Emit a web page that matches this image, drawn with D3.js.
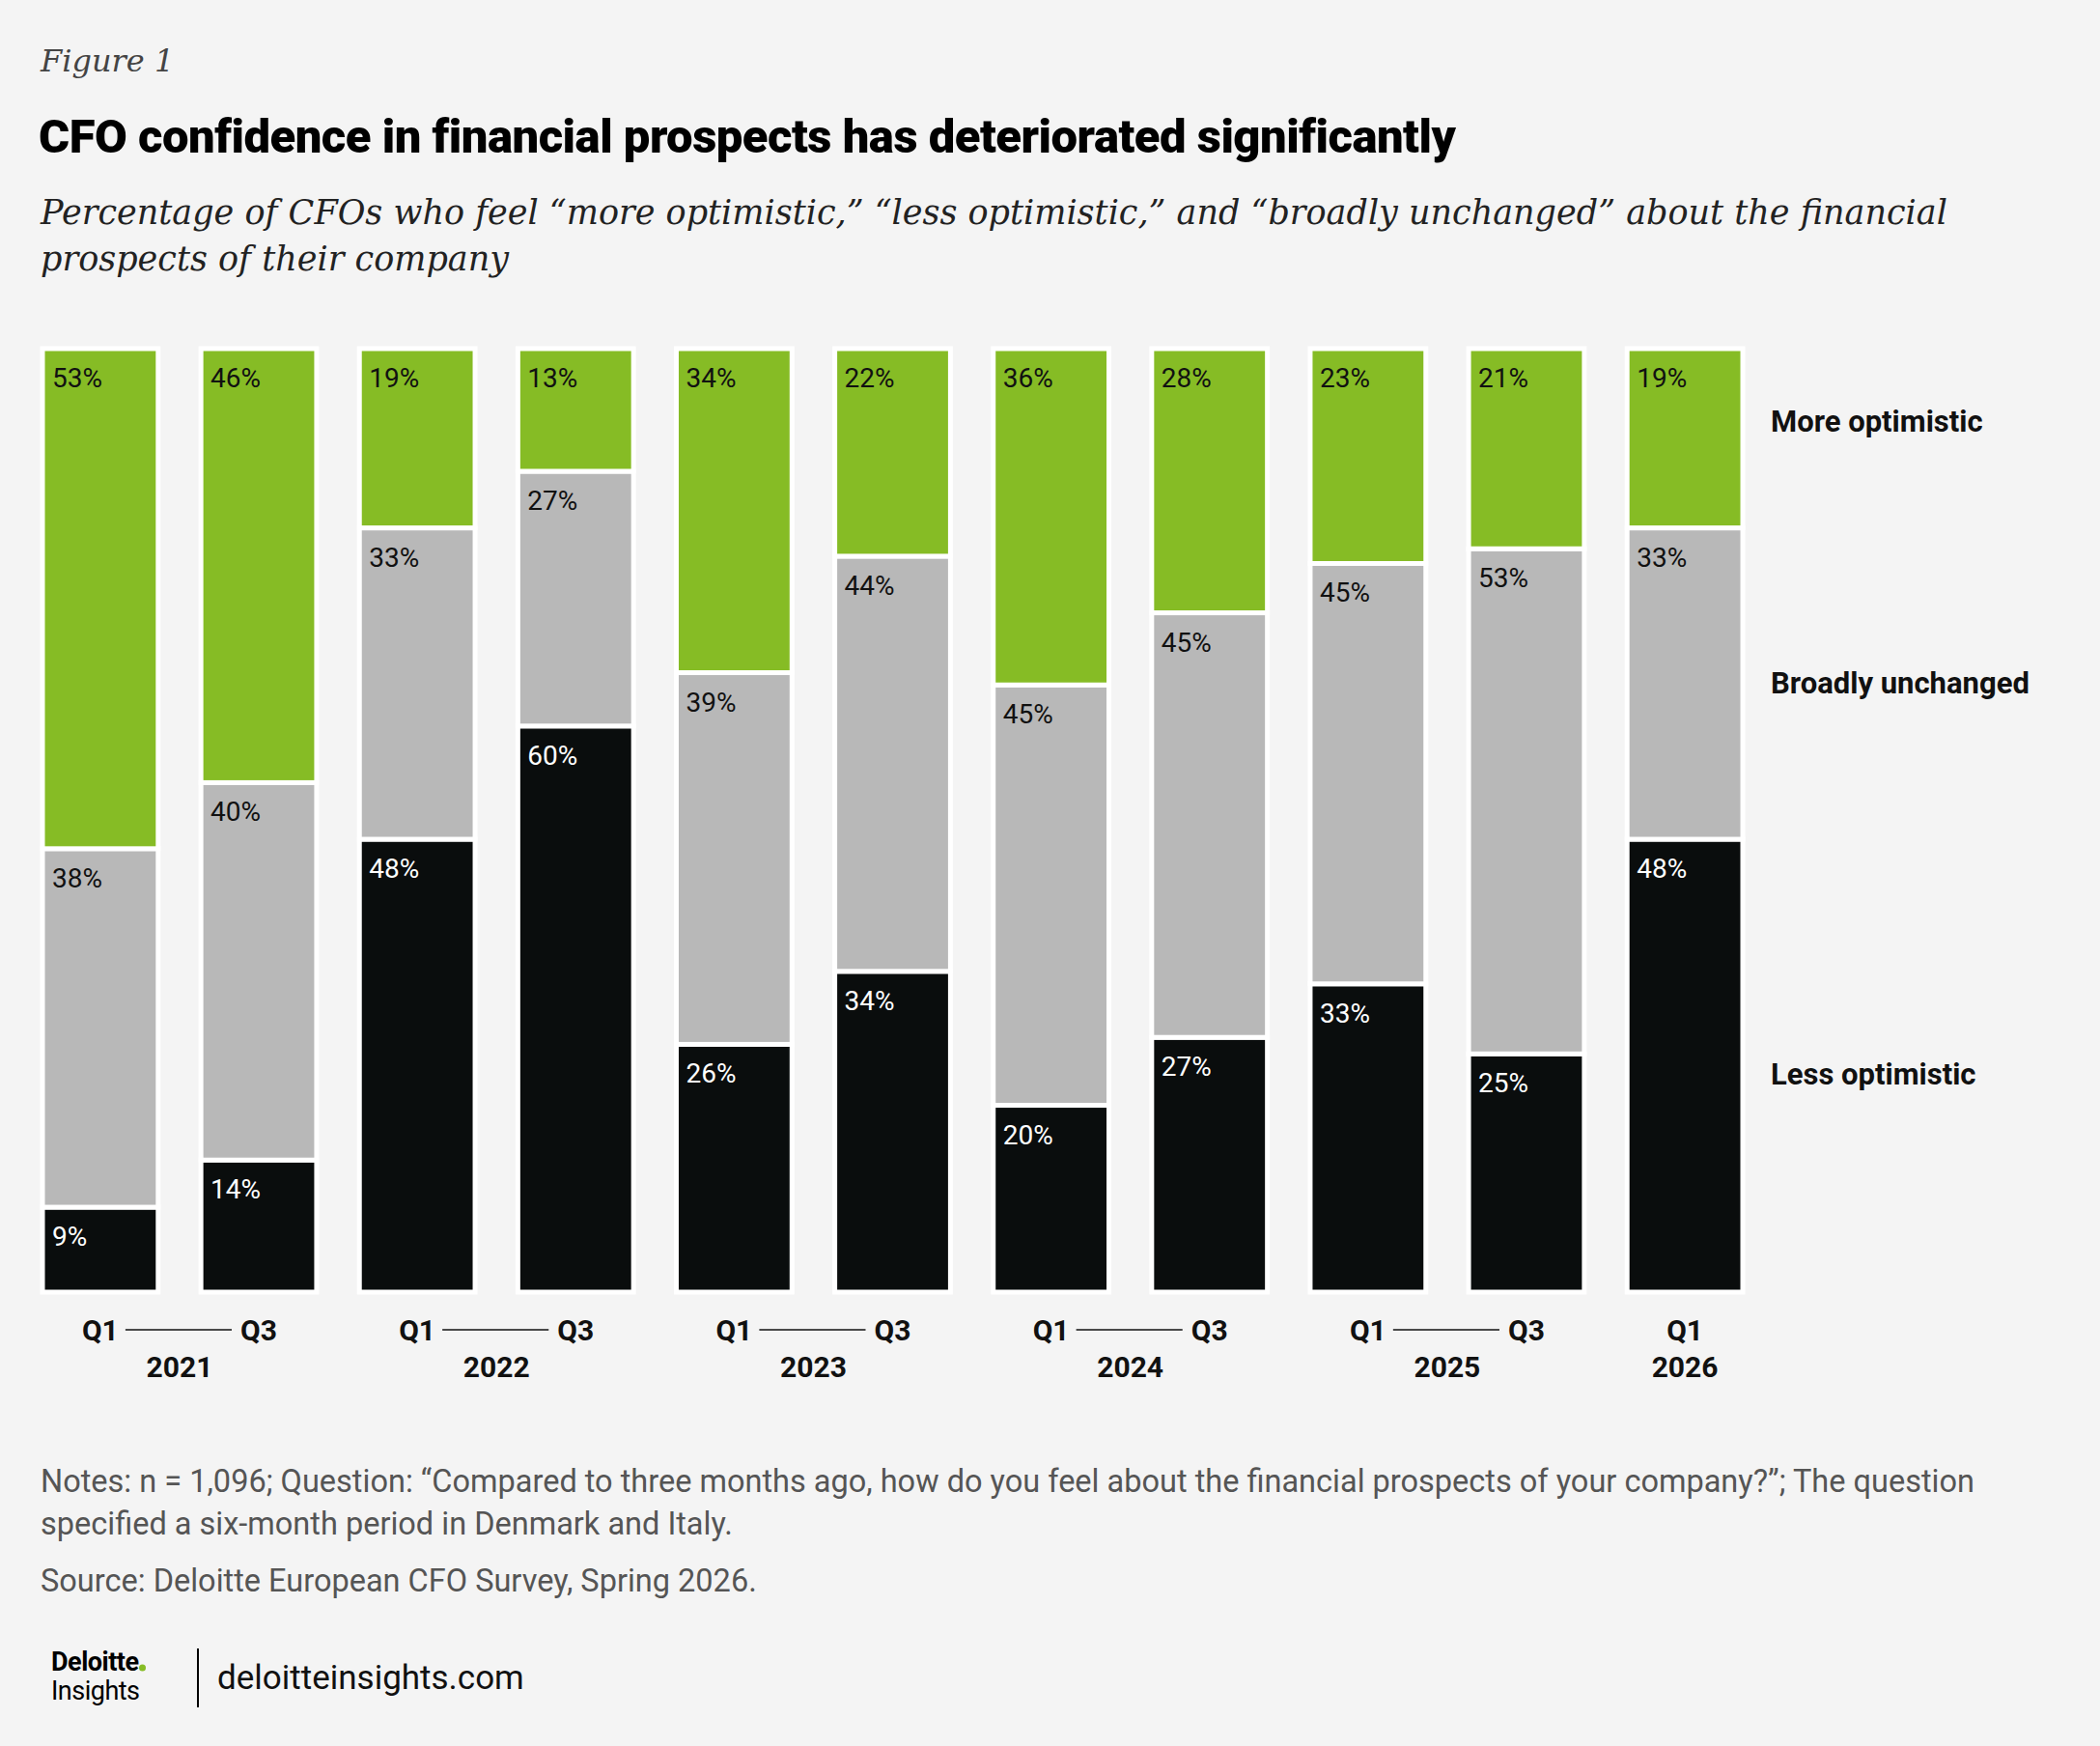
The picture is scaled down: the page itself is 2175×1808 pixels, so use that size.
<!DOCTYPE html>
<html><head><meta charset="utf-8">
<script src="https://cdn.jsdelivr.net/npm/d3@7"></script>
<style>body{margin:0;background:#f4f4f4}</style>
</head><body>
<script>
const periods = ["Q1 2021","Q3 2021","Q1 2022","Q3 2022","Q1 2023","Q3 2023","Q1 2024","Q3 2024","Q1 2025","Q3 2025","Q1 2026"];
const lessOpt = [9,14,48,60,26,34,20,27,33,25,48];
const unchanged = [38,40,33,27,39,44,45,45,45,53,33];
const moreOpt = [53,46,19,13,34,22,36,28,23,21,19];
const seriesNames = ["Less optimistic","Broadly unchanged","More optimistic"];
const colors = ["#0a0d0d","#b8b8b8","#86bc25"];
const years = ["2021","2022","2023","2024","2025","2026"];

const W = 2175, H = 1808;
const svg = d3.select("body").append("svg").attr("width", W).attr("height", H);
svg.append("rect").attr("width", W).attr("height", H).attr("fill", "#f4f4f4");

const serif = "'DejaVu Serif', 'Liberation Serif', serif";
const sans = "Roboto, 'Noto Sans', sans-serif";

svg.append("text").attr("x", 42).attr("y", 74).attr("font-family", serif).attr("font-style", "italic")
  .attr("font-size", 32).attr("fill", "#444").text("Figure 1");
svg.append("text").attr("x", 40).attr("y", 158).attr("font-family", sans).attr("font-weight", 900)
  .attr("font-size", 49).attr("letter-spacing", -0.5).attr("fill", "#000").text("CFO confidence in financial prospects has deteriorated significantly");
[["Percentage of CFOs who feel “more optimistic,” “less optimistic,” and “broadly unchanged” about the financial", 232],
 ["prospects of their company", 280]].forEach(([t, y]) =>
  svg.append("text").attr("x", 42).attr("y", y).attr("font-family", serif).attr("font-style", "italic")
    .attr("font-size", 35).attr("fill", "#222").text(t));

const rows = periods.map((p, i) => {
  const tot = lessOpt[i] + unchanged[i] + moreOpt[i];
  return { p, vals: [lessOpt[i], unchanged[i], moreOpt[i]], tot };
});

const x = d3.scaleBand().domain(periods).range([44, 1805]).paddingInner(0.27).paddingOuter(0);
const y = d3.scaleLinear().domain([0, 1]).range([1338, 361]);

const g = svg.append("g");
rows.forEach(r => {
  let acc = 0;
  r.vals.forEach((v, k) => {
    const y0 = acc / r.tot, y1 = (acc + v) / r.tot;
    acc += v;
    const top = y(y1), bot = y(y0);
    g.append("rect").attr("x", x(r.p)).attr("width", x.bandwidth())
      .attr("y", top).attr("height", bot - top).attr("fill", colors[k])
      .attr("stroke", "#fff").attr("stroke-width", 5);
    g.append("text").attr("x", x(r.p) + 10).attr("y", top + 40)
      .attr("font-family", sans).attr("font-size", 28)
      .attr("fill", k === 0 ? "#fff" : "#111").text(v + "%");
  });
});

const legendY = [1123, 718, 447];
seriesNames.forEach((s, k) => {
  svg.append("text").attr("x", 1834).attr("y", legendY[k]).attr("font-family", sans)
    .attr("font-weight", 700).attr("font-size", 31).attr("fill", "#111").text(s);
});

const ax = svg.append("g").attr("font-family", sans).attr("font-weight", 700).attr("font-size", 30).attr("fill", "#111");
periods.forEach(p => {
  ax.append("text").attr("x", x(p) + x.bandwidth() / 2).attr("y", 1388).attr("text-anchor", "middle").text(p.split(" ")[0]);
});
years.forEach((yr, i) => {
  const a1 = periods[i * 2], a2 = periods[i * 2 + 1];
  if (a2) {
    const c1 = x(a1) + x.bandwidth() / 2, c2 = x(a2) + x.bandwidth() / 2;
    ax.append("line").attr("x1", c1 + 26).attr("x2", c2 - 28).attr("y1", 1377).attr("y2", 1377)
      .attr("stroke", "#111").attr("stroke-width", 1.5);
    ax.append("text").attr("x", (c1 + c2) / 2).attr("y", 1426).attr("text-anchor", "middle").text(yr);
  } else {
    ax.append("text").attr("x", x(a1) + x.bandwidth() / 2).attr("y", 1426).attr("text-anchor", "middle").text(yr);
  }
});

[["Notes: n = 1,096; Question: “Compared to three months ago, how do you feel about the financial prospects of your company?”; The question", 1545],
 ["specified a six-month period in Denmark and Italy.", 1589],
 ["Source: Deloitte European CFO Survey, Spring 2026.", 1648]].forEach(([t, yy]) =>
  svg.append("text").attr("x", 42).attr("y", yy).attr("font-family", sans).attr("font-size", 32.5)
    .attr("fill", "#555").text(t));

// logo
const dl = svg.append("text").attr("x", 53).attr("y", 1730).attr("font-family", sans).attr("font-weight", 700)
  .attr("font-size", 27).attr("letter-spacing", -0.5).attr("fill", "#000").text("Deloitte");
const dw = dl.node().getComputedTextLength();
svg.append("circle").attr("cx", 53 + dw + 4).attr("cy", 1727).attr("r", 3.5).attr("fill", "#86bc25");
svg.append("text").attr("x", 53).attr("y", 1760).attr("font-family", sans)
  .attr("font-size", 27).attr("letter-spacing", -0.5).attr("fill", "#000").text("Insights");
svg.append("line").attr("x1", 205).attr("x2", 205).attr("y1", 1707).attr("y2", 1768).attr("stroke", "#000").attr("stroke-width", 2);
svg.append("text").attr("x", 225).attr("y", 1749).attr("font-family", sans)
  .attr("font-size", 35).attr("fill", "#111").text("deloitteinsights.com");
</script>
</body></html>
